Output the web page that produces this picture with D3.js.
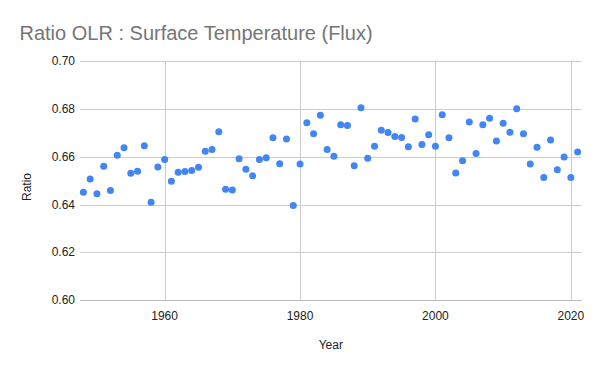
<!DOCTYPE html>
<html>
<head>
<meta charset="utf-8">
<script src="https://cdn.jsdelivr.net/npm/d3@7"></script>
<style>
body { margin: 0; background: #fff; }
svg { display: block; font-family: "Liberation Sans", Arial, sans-serif; }
</style>
</head>
<body>
<svg id="chart" width="600" height="371"></svg>
<script>
const years = d3.range(1948, 2022);
const ratios = [
  0.6452, 0.6507, 0.6445, 0.6560, 0.6459, 0.6606, 0.6638, 0.6531, 0.6539, 0.6646,
  0.6410, 0.6557, 0.6588, 0.6498, 0.6535, 0.6538, 0.6542, 0.6556, 0.6623, 0.6630,
  0.6704, 0.6464, 0.6461, 0.6591, 0.6548, 0.6520, 0.6588, 0.6596, 0.6679, 0.6571,
  0.6674, 0.6396, 0.6570, 0.6742, 0.6696, 0.6773, 0.6630, 0.6602, 0.6734, 0.6730,
  0.6562, 0.6805, 0.6594, 0.6644, 0.6711, 0.6701, 0.6684, 0.6680, 0.6642, 0.6758,
  0.6651, 0.6692, 0.6644, 0.6775, 0.6679, 0.6532, 0.6583, 0.6745, 0.6613, 0.6734,
  0.6761, 0.6666, 0.6740, 0.6702, 0.6800, 0.6696, 0.6570, 0.6640, 0.6513, 0.6670,
  0.6546, 0.6599, 0.6513, 0.6620
];
const xTicks = [1960, 1980, 2000, 2020];
const yTicks = [0.60, 0.62, 0.64, 0.66, 0.68, 0.70];
const title = "Ratio OLR : Surface Temperature (Flux)";
const xTitle = "Year";
const yTitle = "Ratio";

const svg = d3.select("#chart");
const mLeft = 80, mRight = 581.7, mTop = 61, mBottom = 300.3;

const x = d3.scaleLinear().domain([1947.5, 2021.6]).range([mLeft, mRight]);
const y = d3.scaleLinear().domain([0.60, 0.70]).range([mBottom, mTop]);

svg.append("text")
  .attr("x", 19.5).attr("y", 40)
  .attr("font-size", 20).attr("fill", "#757575")
  .text(title);

// horizontal gridlines
svg.append("g").selectAll("line").data(yTicks).join("line")
  .attr("x1", mLeft).attr("x2", mRight)
  .attr("y1", d => Math.round(y(d)) + 0.5).attr("y2", d => Math.round(y(d)) + 0.5)
  .attr("stroke", d => d === 0.60 ? "#bbbbbb" : "#cccccc").attr("stroke-width", 1);

// vertical gridlines
svg.append("g").selectAll("line").data(xTicks).join("line")
  .attr("x1", d => Math.round(x(d)) + 0.5).attr("x2", d => Math.round(x(d)) + 0.5)
  .attr("y1", mTop).attr("y2", mBottom)
  .attr("stroke", "#cccccc").attr("stroke-width", 1);

// y tick labels
svg.append("g").selectAll("text").data(yTicks).join("text")
  .attr("x", 75).attr("y", d => y(d) + 4)
  .attr("text-anchor", "end").attr("font-size", 12).attr("fill", "#222")
  .text(d => d3.format(".2f")(d));

// x tick labels
svg.append("g").selectAll("text").data(xTicks).join("text")
  .attr("x", d => x(d)).attr("y", 320)
  .attr("text-anchor", "middle").attr("font-size", 12).attr("fill", "#222")
  .text(d => d);

svg.append("text")
  .attr("x", (mLeft + mRight) / 2).attr("y", 349)
  .attr("text-anchor", "middle").attr("font-size", 12).attr("fill", "#222")
  .text(xTitle);

svg.append("text")
  .attr("transform", "translate(31,187) rotate(-90)")
  .attr("text-anchor", "middle").attr("font-size", 12).attr("fill", "#222")
  .text(yTitle);

svg.append("g").selectAll("circle").data(years).join("circle")
  .attr("cx", (d) => x(d))
  .attr("cy", (d, i) => y(ratios[i]))
  .attr("r", 3.5)
  .attr("fill", "#4285f4");
</script>
</body>
</html>
